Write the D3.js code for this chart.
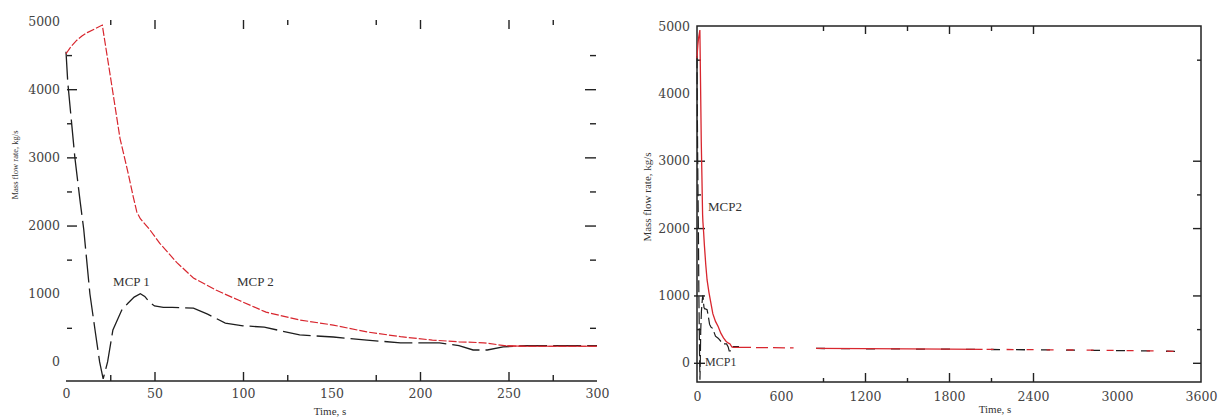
<!DOCTYPE html>
<html>
<head>
<meta charset="utf-8">
<script src="https://cdn.jsdelivr.net/npm/d3@7"></script>
<style>
  html, body { margin: 0; padding: 0; background: #fff; }
  svg { display: block; }
  .tick text { font-family: "DejaVu Serif", serif; font-size: 12.5px; fill: #444; }
  .ttl { font-family: "Liberation Serif", serif; fill: #333; }
</style>
</head>
<body>
<svg id="chart" width="1223" height="417"></svg>
<script>
// ---- Transient, first 300 s: MCP 1 (black) ----
const mcp1Time = [0, 1, 3, 5, 8, 10, 13.5, 16.5, 19, 21, 23.5, 26.5, 31.5, 35, 38.5, 42, 44.5, 47, 50, 55, 60, 72, 80, 90, 100, 112, 132, 151, 170, 189, 211, 222, 230, 238, 247, 260, 275, 300];
const mcp1Flow = [4550, 4100, 3550, 3000, 2350, 1950, 1000, 450, 0, -250, 0, 470, 760, 860, 950, 1000, 960, 880, 820, 800, 800, 790, 700, 570, 530, 510, 395, 365, 320, 280, 280, 240, 175, 175, 220, 240, 240, 240];

// ---- Transient, first 300 s: MCP 2 (red) ----
const mcp2Time = [0, 3, 6, 9, 12, 16, 20.5, 25, 30.5, 35, 38, 40, 42, 47, 53, 62.5, 72, 85, 98, 113, 132, 151, 170, 189, 207, 222, 236, 249, 260, 300];
const mcp2Flow = [4520, 4630, 4715, 4780, 4830, 4880, 4940, 4200, 3280, 2780, 2420, 2200, 2100, 1950, 1740, 1460, 1230, 1050, 900, 730, 615, 540, 440, 370, 320, 295, 280, 235, 230, 230];

// ---- Long-term behaviour (up to ~3460 s) ----
const longTime  = [300, 450, 690, 770, 850, 1200, 1500, 1800, 2040, 2400, 2700, 3000, 3300, 3460];
const mcp2Long  = [230, 226, 222, null, 215, 210, 207, 204, 200, 195, 190, 184, 176, 168];
const mcp1Long  = [228, 224, 220, null, 213, 208, 205, 202, 198, 193, 188, 182, 174, 166];

// ---- Axis ticks and labels ----
const leftXLabelVals = [0, 50, 100, 150, 200, 250, 300];
const leftXLabels    = ["0", "50", "100", "150", "200", "250", "300"];
const leftXMajor     = [50, 100, 200, 250];
const leftXMinor     = [25, 125, 175, 275];
const leftYLabelVals = [0, 1000, 2000, 3000, 4000, 5000];
const leftYLabels    = ["0", "1000", "2000", "3000", "4000", "5000"];
const leftYMajor     = [2000, 3000, 4000];
const leftYMinor     = [500, 1500, 2500, 3500, 4500];

const rightXLabelVals = [0, 600, 1200, 1800, 2400, 3000, 3600];
const rightXLabels    = ["0", "600", "1200", "1800", "2400", "3000", "3600"];
const rightXMajor     = [1200, 1800, 2400];
const rightXMinor     = [900, 1500, 2100];
const rightYLabelVals = [0, 1000, 2000, 3000, 4000, 5000];
const rightYLabels    = ["0", "1000", "2000", "3000", "4000", "5000"];
const rightYMajor     = [0, 1000, 2000, 3000];
const rightYMinor     = [500, 2500, 4500];

const seriesNames = ["MCP 1", "MCP 2"];
const RED = "#d8262e", BLACK = "#1e1e1e";

const svg = d3.select("#chart");

const zip = (t, v) => t.map((d, i) => ({ t: d, v: v[i] }));
const s1 = zip(mcp1Time, mcp1Flow);
const s2 = zip(mcp2Time, mcp2Flow);
const l1 = zip(longTime, mcp1Long);
const l2 = zip(longTime, mcp2Long);

function tickSet(g, axisFn, scale, values, size, color) {
  g.call(axisFn(scale).tickValues(values).tickSize(size).tickFormat(""))
   .call(s => s.select(".domain").remove())
   .call(s => s.selectAll("line").attr("stroke", color || "#222").attr("stroke-width", 1.4));
}
function labelSet(g, axisFn, scale, values, labels, pad) {
  g.call(axisFn(scale).tickValues(values).tickSize(0).tickPadding(pad)
          .tickFormat((d, i) => labels[i]))
   .call(s => s.select(".domain").remove());
}

// ================= Left chart: 0–300 s =================
{
  const xL = d3.scaleLinear().domain([0, 300]).range([66, 597]);
  const yL = d3.scaleLinear().domain([-280, 5000]).range([381, 21]);
  const [x0, x1] = xL.range();
  const [yb, yt] = yL.range();
  const g = svg.append("g");

  // bottom axis line
  g.append("line").attr("x1", x0).attr("x2", x1).attr("y1", yb).attr("y2", yb)
    .attr("stroke", "#222").attr("stroke-width", 1.5);

  // inward ticks
  tickSet(g.append("g").attr("transform", `translate(0,${yb})`), d3.axisBottom, xL, leftXMajor, -9);
  tickSet(g.append("g").attr("transform", `translate(0,${yb})`), d3.axisBottom, xL, leftXMinor, -6);
  tickSet(g.append("g").attr("transform", `translate(0,${yt - 1})`), d3.axisTop, xL, leftXMajor, -9);
  tickSet(g.append("g").attr("transform", `translate(0,${yt - 1})`), d3.axisTop, xL, leftXMinor, -5);
  tickSet(g.append("g").attr("transform", `translate(${x0 + 1},0)`), d3.axisLeft, yL, leftYMajor, -10);
  tickSet(g.append("g").attr("transform", `translate(${x0 + 1},0)`), d3.axisLeft, yL, leftYMinor, -5);
  tickSet(g.append("g").attr("transform", `translate(${x1 - 1},0)`), d3.axisRight, yL, leftYMajor, -11);
  tickSet(g.append("g").attr("transform", `translate(${x1 - 1},0)`), d3.axisRight, yL, leftYMinor, -6);

  labelSet(g.append("g").attr("transform", `translate(0,${yb})`), d3.axisBottom, xL, leftXLabelVals, leftXLabels, 8);
  labelSet(g.append("g").attr("transform", `translate(${x0 - 6},0)`), d3.axisLeft, yL, leftYLabelVals, leftYLabels, 0);

  const line = d3.line().x(d => xL(d.t)).y(d => yL(d.v)).curve(d3.curveLinear);

  g.append("path").datum(s1).attr("d", line).attr("fill", "none")
    .attr("stroke", BLACK).attr("stroke-width", 1.3).attr("stroke-dasharray", "28,6");
  g.append("path").datum(s2).attr("d", line).attr("fill", "none")
    .attr("stroke", RED).attr("stroke-width", 1.2).attr("stroke-dasharray", "8,2");
  // the two flows coincide at the end of the window
  g.append("path").datum(s2.filter(d => d.t >= 249)).attr("d", line).attr("fill", "none")
    .attr("stroke", RED).attr("stroke-width", 1.2);

  g.append("text").attr("class", "ttl").attr("x", xL(37)).attr("y", yL(1150))
    .attr("text-anchor", "middle").attr("dominant-baseline", "middle")
    .attr("font-size", 13).text(seriesNames[0]);
  g.append("text").attr("class", "ttl").attr("x", xL(107)).attr("y", yL(1150))
    .attr("text-anchor", "middle").attr("dominant-baseline", "middle")
    .attr("font-size", 13).text(seriesNames[1]);

  g.append("text").attr("class", "ttl").attr("x", 330).attr("y", 412)
    .attr("text-anchor", "middle").attr("dominant-baseline", "middle")
    .attr("font-size", 11).text("Time, s");
  g.append("text").attr("class", "ttl")
    .attr("transform", "translate(16,165) rotate(-90)")
    .attr("text-anchor", "middle").attr("dominant-baseline", "middle")
    .attr("font-size", 8.5).text("Mass flow rate, kg/s");
}

// ================= Right chart: 0–3600 s =================
{
  const xR = d3.scaleLinear().domain([0, 3600]).range([697, 1201]);
  const yR = d3.scaleLinear().domain([-285, 5000]).range([382, 26]);
  const [x0, x1] = xR.range();
  const [yb, yt] = yR.range();
  const g = svg.append("g");

  g.append("rect").attr("x", x0).attr("y", yt).attr("width", x1 - x0).attr("height", yb - yt)
    .attr("fill", "none").attr("stroke", "#222").attr("stroke-width", 1.5);

  tickSet(g.append("g").attr("transform", `translate(0,${yb})`), d3.axisBottom, xR, rightXMajor, -9);
  tickSet(g.append("g").attr("transform", `translate(0,${yb})`), d3.axisBottom, xR, rightXMinor, -4);
  tickSet(g.append("g").attr("transform", `translate(0,${yt})`), d3.axisTop, xR, rightXMajor, -8);
  tickSet(g.append("g").attr("transform", `translate(0,${yt})`), d3.axisTop, xR, rightXMinor, -5);
  tickSet(g.append("g").attr("transform", `translate(${x0},0)`), d3.axisLeft, yR, rightYMajor, -8);
  tickSet(g.append("g").attr("transform", `translate(${x0},0)`), d3.axisLeft, yR, rightYMajor, 3);
  tickSet(g.append("g").attr("transform", `translate(${x0},0)`), d3.axisLeft, yR, rightYMinor, -4);
  tickSet(g.append("g").attr("transform", `translate(${x1},0)`), d3.axisRight, yR, rightYMajor, -8);
  tickSet(g.append("g").attr("transform", `translate(${x1},0)`), d3.axisRight, yR, rightYMinor, -4);

  labelSet(g.append("g").attr("transform", `translate(0,${yb})`), d3.axisBottom, xR, rightXLabelVals, rightXLabels, 10);
  labelSet(g.append("g").attr("transform", `translate(${x0 - 7},0)`), d3.axisLeft, yR, rightYLabelVals, rightYLabels, 0);

  const line = d3.line().defined(d => d.v != null).x(d => xR(d.t)).y(d => yR(d.v));

  // early transient (same data, compressed time scale)
  g.append("path").datum(s1).attr("d", line).attr("fill", "none")
    .attr("stroke", BLACK).attr("stroke-width", 1.2).attr("stroke-dasharray", "12,4");
  // long-term black, mostly hidden beneath the red trace
  g.append("path").datum(l1.filter(d => d.t >= 850)).attr("d", line).attr("fill", "none")
    .attr("stroke", BLACK).attr("stroke-width", 1.3).attr("stroke-dasharray", "9,16");

  g.append("path").datum(s2).attr("d", line).attr("fill", "none")
    .attr("stroke", RED).attr("stroke-width", 1.3);
  g.append("path").datum(l2.filter(d => d.t <= 690)).attr("d", line).attr("fill", "none")
    .attr("stroke", RED).attr("stroke-width", 1.3).attr("stroke-dasharray", "12,5");
  g.append("path").datum(l2.filter(d => d.t >= 850 && d.t <= 2040)).attr("d", line).attr("fill", "none")
    .attr("stroke", RED).attr("stroke-width", 1.3);
  g.append("path").datum(l2.filter(d => d.t >= 2040)).attr("d", line).attr("fill", "none")
    .attr("stroke", RED).attr("stroke-width", 1.3).attr("stroke-dasharray", "7,13")
    .attr("stroke-dashoffset", -4);

  g.append("text").attr("class", "ttl").attr("x", xR(200)).attr("y", yR(2300))
    .attr("text-anchor", "middle").attr("dominant-baseline", "middle")
    .attr("font-size", 13).text(seriesNames[1].replace(" ", ""));
  g.append("text").attr("class", "ttl").attr("x", xR(170)).attr("y", yR(0))
    .attr("text-anchor", "middle").attr("dominant-baseline", "middle")
    .attr("font-size", 12).text(seriesNames[0].replace(" ", ""));

  g.append("text").attr("class", "ttl").attr("x", 995).attr("y", 410)
    .attr("text-anchor", "middle").attr("dominant-baseline", "middle")
    .attr("font-size", 11).text("Time, s");
  g.append("text").attr("class", "ttl")
    .attr("transform", "translate(648,197) rotate(-90)")
    .attr("text-anchor", "middle").attr("dominant-baseline", "middle")
    .attr("font-size", 11).text("Mass flow rate, kg/s");
}
</script>
</body>
</html>
